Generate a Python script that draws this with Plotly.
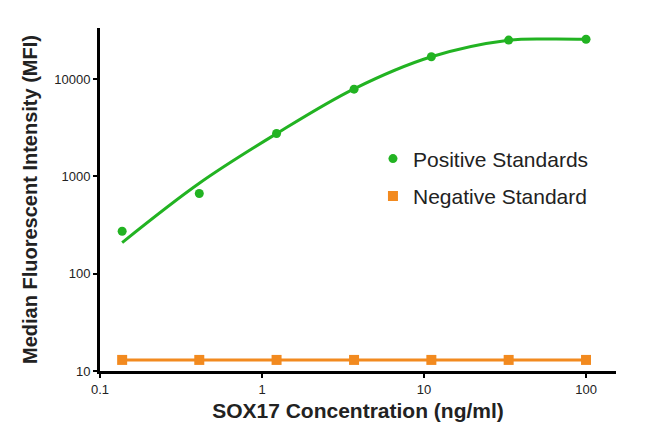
import plotly.graph_objects as go

# Concentrations (ng/ml), 3-fold dilution series
conc = [0.137, 0.41, 1.23, 3.7, 11.1, 33.3, 100]

# Measured MFI values
positive_mfi = [273, 668, 2760, 7890, 17000, 25200, 25700]
negative_mfi = [13, 13, 13, 13, 13, 13, 13]

# Fitted curve for the positive standards
fit_conc = [0.137, 0.41, 1.23, 3.7, 11.1, 33.3, 60, 100]
fit_mfi = [209, 851, 2754, 7943, 16982, 25119, 25900, 25704]

y_ticks = [10, 100, 1000, 10000]
x_ticks = [0.1, 1, 10, 100]

GREEN = "#22b322"
ORANGE = "#f28a1f"
FONT = "Liberation Sans, Arial, sans-serif"


def PlotCurve():
    fig = go.Figure()

    # fitted curve (no legend entry)
    fig.add_trace(go.Scatter(x=fit_conc, y=fit_mfi, mode="lines",
                             line=dict(color=GREEN, width=3, shape="spline"),
                             legendgroup="pos", showlegend=False, hoverinfo="skip"))
    # positive standards
    fig.add_trace(go.Scatter(x=conc, y=positive_mfi, mode="markers", name="Positive Standards",
                             marker=dict(color=GREEN, size=9, symbol="circle"),
                             legendgroup="pos"))
    # negative standard: line + markers
    fig.add_trace(go.Scatter(x=conc, y=negative_mfi, mode="lines",
                             line=dict(color=ORANGE, width=3),
                             legendgroup="neg", showlegend=False, hoverinfo="skip"))
    fig.add_trace(go.Scatter(x=conc, y=negative_mfi, mode="markers", name="Negative Standard",
                             marker=dict(color=ORANGE, size=10, symbol="square"),
                             legendgroup="neg"))

    axis_common = dict(type="log", showgrid=False, zeroline=False, automargin=False,
                       showline=True, linecolor="black", linewidth=3,
                       ticks="outside", ticklen=4, tickwidth=2, tickcolor="black")

    fig.update_xaxes(**axis_common, range=[-1, 2.185],
                     tickvals=x_ticks, ticktext=[str(v) for v in x_ticks],
                     tickfont=dict(size=13, color="#222", family=FONT),
                     title=dict(text="<b>SOX17 Concentration (ng/ml)</b>",
                                font=dict(size=21, color="#222", family=FONT), standoff=8))
    fig.update_yaxes(**axis_common, range=[1, 4.526],
                     tickvals=y_ticks, ticktext=[str(v) for v in y_ticks],
                     tickfont=dict(size=13, color="#222", family=FONT),
                     title=dict(text="<b>Median Fluorescent Intensity (MFI)</b>",
                                font=dict(size=20, color="#222", family=FONT), standoff=12))

    fig.update_layout(
        width=650, height=422,
        margin=dict(l=92, r=42, t=20, b=59),
        paper_bgcolor="white", plot_bgcolor="white",
        font=dict(family=FONT, color="#222"),
        legend=dict(x=0.529, y=0.678, xanchor="left", yanchor="top",
                    traceorder="grouped", tracegroupgap=7,
                    font=dict(size=21, color="#222", family=FONT),
                    bgcolor="rgba(0,0,0,0)"),
    )
    return fig


if __name__ == "__main__":
    fig = PlotCurve()
    fig.write_html("out.html")
